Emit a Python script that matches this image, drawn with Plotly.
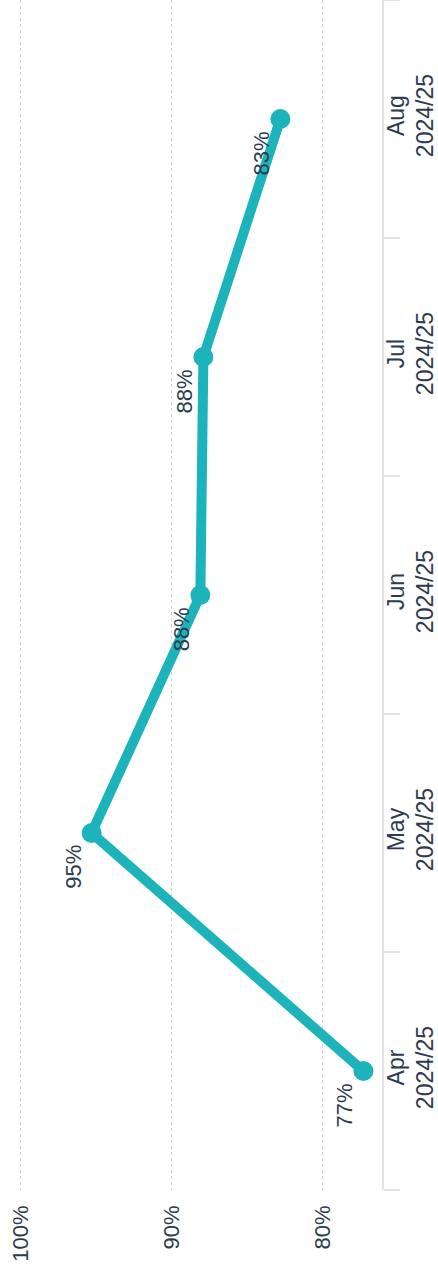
import plotly.graph_objects as go

months = ["Apr", "May", "Jun", "Jul", "Aug"]
fiscal_year = "2024/25"
values = [77.3, 95.3, 88.1, 87.9, 82.8]
value_labels = ["77%", "95%", "88%", "88%", "83%"]
pct_ticks = [80, 90, 100]
pct_tick_text = ["80%", "90%", "100%"]

teal = "#1db3ba"
text_col = "#2c3b50"
font_family = "Liberation Sans, Arial, sans-serif"

cats = [f"{m}<br>{fiscal_year}" for m in months]

fig = go.Figure()
fig.add_trace(go.Scatter(
    x=values, y=cats, mode="lines+markers",
    line=dict(color=teal, width=10),
    marker=dict(size=20, color=teal),
    hoverinfo="skip", showlegend=False,
))

for v, c, lab in zip(values, cats, value_labels):
    fig.add_annotation(
        x=v, y=c, text=lab, showarrow=False, textangle=-90,
        xshift=-19, yshift=-34,
        font=dict(family=font_family, size=22, color=text_col),
    )

fig.update_layout(
    width=438, height=1274,
    margin=dict(l=0, r=56, t=0, b=84, autoexpand=False),
    paper_bgcolor="white", plot_bgcolor="white",
    font=dict(family=font_family, size=22, color=text_col),
    xaxis=dict(
        range=[101.37, 76.07],
        tickvals=pct_ticks, ticktext=pct_tick_text,
        tickangle=-90, ticklabelstandoff=10,
        showgrid=True, gridcolor="#cfcfcf", griddash="dot", gridwidth=1,
        zeroline=False, showline=False, ticks="",
        tickfont=dict(size=22, color=text_col),
    ),
    yaxis=dict(
        type="category", categoryorder="array", categoryarray=cats,
        range=[-0.5, 4.5], side="right",
        showline=True, linecolor="#e3e3e3", linewidth=2,
        ticks="outside", ticklen=16, tickcolor="#e3e3e3", tickwidth=2,
        tickson="boundaries", ticklabelstandoff=-8,
        showgrid=False, zeroline=False,
        tickangle=-90,
        tickfont=dict(size=23, color=text_col),
    ),
)

fig.write_html("out.html")
